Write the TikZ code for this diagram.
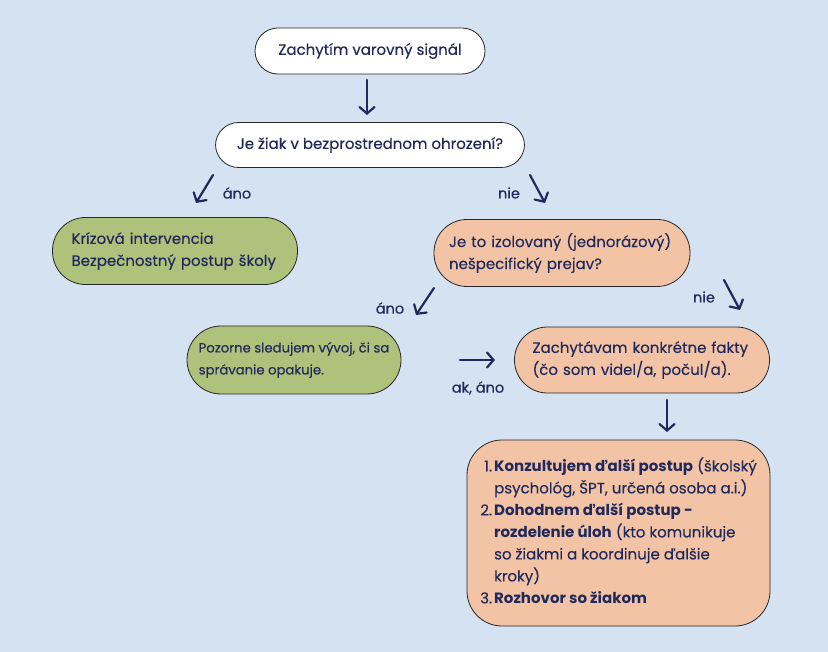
\documentclass[tikz,border=0pt]{standalone}
\usepackage{fontspec}
\setmainfont{Poppins}[UprightFeatures={FakeBold=0.3}]
\usetikzlibrary{arrows.meta}

\definecolor{bgblue}{HTML}{D5E2F2}
\definecolor{leafgreen}{HTML}{ADC27A}
\definecolor{peach}{HTML}{F2C4A5}
\definecolor{inknavy}{HTML}{21295C}

\tikzset{
  pill/.style={draw=black!85, line width=0.8pt, rounded corners=#1,
    text=inknavy, align=left, inner sep=0pt,
    font=\fontsize{15}{22}\selectfont},
  flow/.style={draw=inknavy, line width=2.2pt, line cap=round,
    -{Straight Barb[length=6.5pt,width=15pt,line cap=round]}},
  answer/.style={text=inknavy, font=\fontsize{14.5}{16}\selectfont}
}

\begin{document}
\begin{tikzpicture}[x=1pt, y=-1pt]

    % Background
    \fill[bgblue] (0,0) rectangle (828,652);
    \useasboundingbox (0,0) rectangle (828,652);

    % Question nodes
    \node[pill=23, fill=white, minimum width=230, minimum height=46, align=center]
        (signal) at (370,51) {Zachytím varovný signál};
    \node[pill=23, fill=white, minimum width=309, minimum height=45, align=center]
        (danger) at (370,145) {Je žiak v bezprostrednom ohrození?};

    % Answer nodes
    \node[pill=33, fill=leafgreen, minimum width=245, minimum height=67, text width=207]
        (crisis) at (175,251) {Krízová intervencia\\Bezpečnostný postup školy};
    \node[pill=33, fill=peach, minimum width=256, minimum height=67, text width=226]
        (isolated) at (562,253) {Je to izolovaný (jednorázový)\\nešpecifický prejav?};
    \node[pill=34, fill=leafgreen, minimum width=214, minimum height=68,
        font=\fontsize{13.2}{22}\selectfont]
        (watch) at (294,360) {Pozorne sledujem vývoj, či sa\\správanie opakuje.};
    \node[pill=33, fill=peach, minimum width=255, minimum height=66, text width=219]
        (facts) at (642,360) {Zachytávam konkrétne fakty\\(čo som videl/a, počul/a).};

    % Final steps
    \node[pill=35, fill=peach, minimum width=303, minimum height=186]
        (steps) at (618.5,533) {%
        \begin{tabular}{@{}r@{\hspace{2pt}}l@{}}
        1. & \textbf{Konzultujem ďalší postup} (školský\\
           & psychológ, ŠPT, určená osoba a.i.)\\
        2. & \textbf{Dohodnem ďalší postup -}\\
           & \textbf{rozdelenie úloh} (kto komunikuje\\
           & so žiakmi a koordinuje ďalšie\\
           & kroky)\\
        3. & \textbf{Rozhovor so žiakom}
        \end{tabular}};

    % Arrow ends
    \coordinate (s1) at (367,80);   \coordinate (e1) at (367,115);
    \coordinate (s2) at (213,175);  \coordinate (e2) at (196,203);
    \coordinate (s3) at (530,175);  \coordinate (e3) at (545,203);
    \coordinate (s4) at (434,288);  \coordinate (e4) at (416,315);
    \coordinate (s5) at (724,280);  \coordinate (e5) at (740,310);
    \coordinate (s6) at (460,360);  \coordinate (e6) at (495,360);
    \coordinate (s7) at (667,400);  \coordinate (e7) at (667,432);

    % Arrows
    \draw[flow] (s1) -- (e1);
    \draw[flow] (s2) -- (e2);
    \draw[flow] (s3) -- (e3);
    \draw[flow] (s4) -- (e4);
    \draw[flow] (s5) -- (e5);
    \draw[flow] (s6) -- (e6);
    \draw[flow] (s7) -- (e7);

    % Labels
    \node[answer] (yes1) at (237,193) {áno};
    \node[answer] (no1) at (509,193) {nie};
    \node[answer] (yes2) at (390,308) {áno};
    \node[answer] (no2) at (704,297) {nie};
    \node[answer] (ifyes) at (478,388) {ak, áno};

\end{tikzpicture}
\end{document}
